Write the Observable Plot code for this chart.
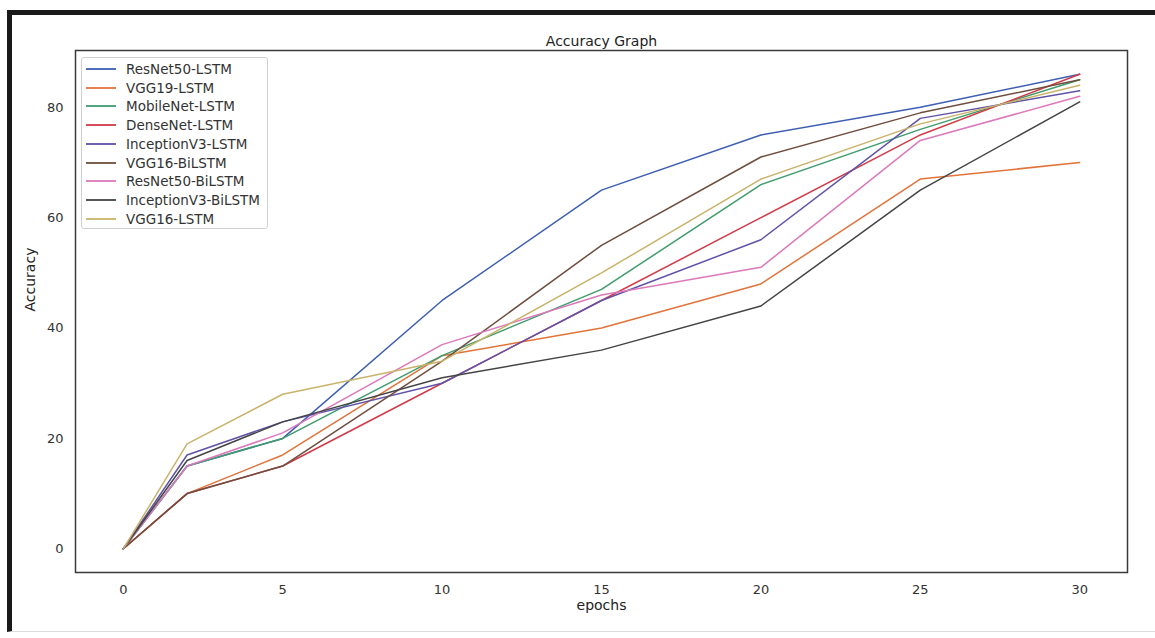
<!DOCTYPE html>
<html>
<head>
<meta charset="utf-8">
<script src="https://cdn.jsdelivr.net/npm/d3@7"></script>
<script src="https://cdn.jsdelivr.net/npm/@observablehq/plot@0.6"></script>
<style>
  html, body { margin: 0; padding: 0; background: #fff; }
  #wrap { position: relative; width: 1155px; height: 638px; overflow: hidden; font-family: "DejaVu Sans", sans-serif; }
  #border { position: absolute; left: 7px; top: 10px; right: -10px; bottom: 6px; border-top: 5px solid #1a1a1a; border-left: 5px solid #1a1a1a; border-bottom: 1px solid #ddd; pointer-events: none; }
  #legend { position: absolute; left: 81px; top: 57px; width: 187px; height: 172px; border: 1px solid #d0d0d0; border-radius: 3px; background: #fff; box-sizing: border-box; }
  .row { position: absolute; left: 0; height: 18px; display: flex; align-items: center; font-size: 13.5px; color: #333; white-space: nowrap; }
  .row svg { margin-left: 4px; margin-right: 10px; }
  #chart { position: absolute; left: 0; top: 0; }
</style>
</head>
<body>
<div id="wrap">
  <div id="chart"></div>
  <div id="border"></div>
  <div id="legend"></div>
</div>
<script>
const epochs = [0, 2, 5, 10, 15, 20, 25, 30];
const seriesNames = ["ResNet50-LSTM", "VGG19-LSTM", "MobileNet-LSTM", "DenseNet-LSTM", "InceptionV3-LSTM", "VGG16-BiLSTM", "ResNet50-BiLSTM", "InceptionV3-BiLSTM", "VGG16-LSTM"];
const resnet50Lstm     = [0, 15, 20, 45, 65, 75, 80, 86];
const vgg19Lstm        = [0, 10, 17, 35, 40, 48, 67, 70];
const mobilenetLstm    = [0, 15, 20, 35, 47, 66, 76, 85];
const densenetLstm     = [0, 10, 15, 30, 45, 60, 75, 86];
const inceptionV3Lstm  = [0, 17, 23, 30, 45, 56, 78, 83];
const vgg16Bilstm      = [0, 10, 15, 34, 55, 71, 79, 85];
const resnet50Bilstm   = [0, 15, 21, 37, 46, 51, 74, 82];
const inceptionV3Bilstm= [0, 16, 23, 31, 36, 44, 65, 81];
const vgg16Lstm        = [0, 19, 28, 34, 50, 67, 77, 84];
const colors = ["#3d5fb3", "#e2733a", "#3f9c6c", "#d23a48", "#5f52a8", "#6e4e3e", "#dc78bb", "#444444", "#c9b36a"];
const yTicks = [0, 20, 40, 60, 80];
const xTicks = [0, 5, 10, 15, 20, 25, 30];

const allSeries = [resnet50Lstm, vgg19Lstm, mobilenetLstm, densenetLstm, inceptionV3Lstm, vgg16Bilstm, resnet50Bilstm, inceptionV3Bilstm, vgg16Lstm];
const data = [];
allSeries.forEach((vals, i) => vals.forEach((v, j) => data.push({series: seriesNames[i], epoch: epochs[j], acc: v})));

const chart = Plot.plot({
  width: 1155,
  height: 638,
  marginLeft: 75,
  marginRight: 28,
  marginTop: 50,
  marginBottom: 66,
  style: { fontFamily: "DejaVu Sans, sans-serif", fontSize: "13px", color: "#333", background: "transparent" },
  x: { domain: [-1.5, 31.5] },
  y: { domain: [-4.3, 90.3] },
  color: { domain: seriesNames, range: colors },
  marks: [
    Plot.axisX({ ticks: xTicks, tickSize: 0, tickPadding: 12, label: null, fontSize: 13 }),
    Plot.axisY({ ticks: yTicks, tickSize: 0, tickPadding: 12, label: null, fontSize: 13 }),
    Plot.line(data, { x: "epoch", y: "acc", z: "series", stroke: "series", strokeWidth: 1.5 }),
    Plot.frame({ stroke: "#3a3a3a", strokeWidth: 1.5 }),
    Plot.text(["Accuracy Graph"], { frameAnchor: "top", lineAnchor: "bottom", dy: -5, fontSize: 14, fill: "#222" }),
    Plot.text(["epochs"], { frameAnchor: "bottom", dy: 37, fontSize: 14, fill: "#222" }),
    Plot.text(["Accuracy"], { frameAnchor: "left", dx: -45, rotate: -90, fontSize: 14, fill: "#222" })
  ]
});
document.getElementById("chart").appendChild(chart);

const legend = document.getElementById("legend");
seriesNames.forEach((name, i) => {
  const row = document.createElement("div");
  row.className = "row";
  row.style.top = (2 + i * 18.7) + "px";
  row.innerHTML = `<svg width="30" height="4"><line x1="0" x2="30" y1="2" y2="2" stroke="${colors[i]}" stroke-width="1.8"/></svg><span>${name}</span>`;
  legend.appendChild(row);
});
</script>
</body>
</html>
